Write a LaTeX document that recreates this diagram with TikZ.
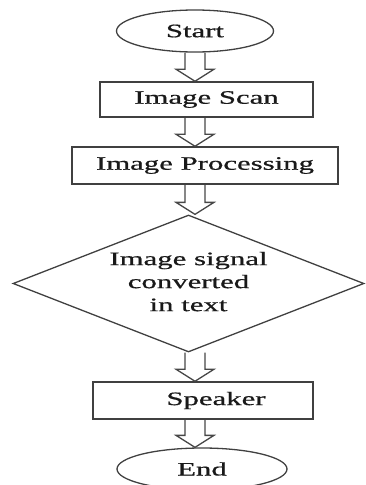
\documentclass[tikz,border=0pt]{standalone}
\usepackage{fontspec}
\setmainfont{Liberation Serif}[UprightFeatures={FakeBold=0.6}]
\usetikzlibrary{shapes,calc}
\newcommand{\wide}[1]{\scalebox{1.62}[1]{#1}}
\newcommand{\flowarrow}[2]{%
\draw[flowline] let \p1=(#1), \p2=(#2), \p3=(start.south) in
(\x3-10pt,\y1) -- (\x3-10pt,\y2+12pt) -- (\x3-19pt,\y2+12pt) -- (\x3,\y2)
-- (\x3+19pt,\y2+12pt) -- (\x3+10pt,\y2+12pt) -- (\x3+10pt,\y1);}

\tikzset{
flowline/.style={draw=black!72, line width=1.3pt, line join=miter},
stepbox/.style={rectangle, draw=black!75, line width=1.5pt, inner sep=0pt},
termbox/.style={ellipse, draw=black!75, line width=1.3pt, inner sep=0pt}
}

\begin{document}
\begin{tikzpicture}[x=1pt,y=-1pt,font=\fontsize{19}{23}\selectfont,text=black!90]
\useasboundingbox (0,0) rectangle (365,485);

\node[termbox, minimum width=157pt, minimum height=42pt] (start) at (195,31) {\wide{Start}};

\node[stepbox, minimum width=213pt, minimum height=35pt] (imagescan) at (206.5,99.5) {\wide{Image Scan}};

\node[stepbox, minimum width=266pt, minimum height=37pt] (imageproc) at (205,165.5) {\wide{Image Processing}};

\node[diamond, draw=black!75, line width=1.3pt, inner sep=0pt, aspect=2.56,
minimum width=351pt, minimum height=137pt] (convert) at (188.5,283.5) {
\raisebox{-4pt}{\wide{\begin{tabular}{@{}c@{}}Image signal\\converted\\in text\end{tabular}}}
};

\node[stepbox, minimum width=220pt, minimum height=37pt] (speaker) at (203,400.5) {\hspace{26pt}\wide{Speaker}};

\node[termbox, minimum width=170pt, minimum height=42pt] (stop) at (202,469) {\wide{End}};

\flowarrow{start.south}{imagescan.north}
\flowarrow{imagescan.south}{imageproc.north}
\flowarrow{imageproc.south}{convert.north}
\flowarrow{convert.south}{speaker.north}
\flowarrow{speaker.south}{stop.north}

\end{tikzpicture}
\end{document}
